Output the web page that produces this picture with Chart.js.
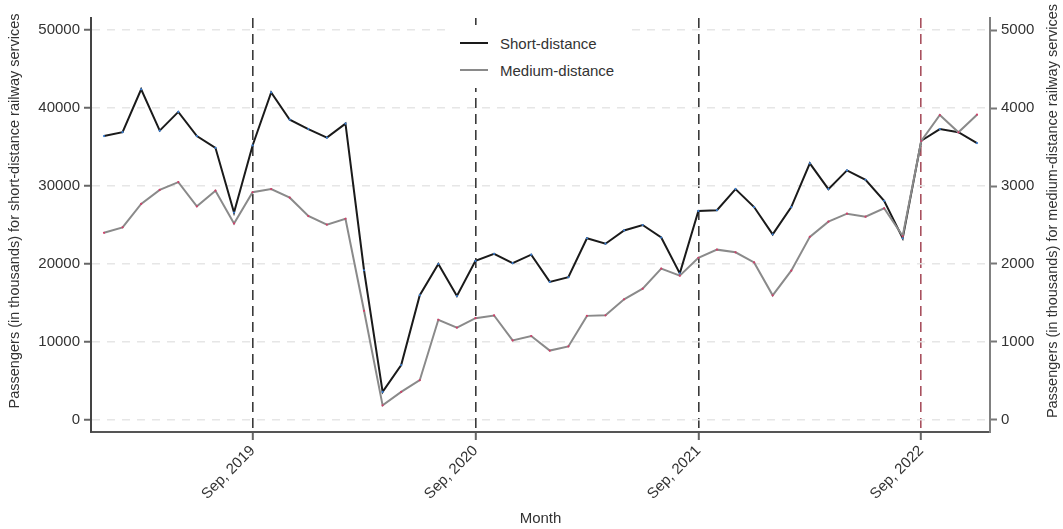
<!DOCTYPE html>
<html>
<head>
<meta charset="utf-8">
<title>Railway passengers by month</title>
<script src="https://cdn.jsdelivr.net/npm/chart.js@4.4.1/dist/chart.umd.min.js"></script>
<style>
  html, body { margin: 0; padding: 0; background: #ffffff; }
  #wrap { position: relative; width: 1063px; height: 529px; }
  #legend {
    position: absolute; left: 449px; top: 25px; width: 181px; height: 63px;
    background: #ffffff; font-family: "Liberation Sans", Arial, sans-serif;
    font-size: 15px; color: #333333;
  }
  #legend .row { position: absolute; left: 0; height: 20px; display: flex; align-items: center; }
  #legend .swatch { display: inline-block; width: 28px; height: 2px; margin-left: 11px; margin-right: 12px; }
</style>
</head>
<body>
<div id="wrap">
  <canvas id="chart" width="1063" height="529"></canvas>
  <div id="legend"></div>
</div>
<script>
// Monthly passengers (thousands), January 2019 to December 2022
const months = [
  "Jan, 2019","Feb, 2019","Mar, 2019","Apr, 2019","May, 2019","Jun, 2019",
  "Jul, 2019","Aug, 2019","Sep, 2019","Oct, 2019","Nov, 2019","Dec, 2019",
  "Jan, 2020","Feb, 2020","Mar, 2020","Apr, 2020","May, 2020","Jun, 2020",
  "Jul, 2020","Aug, 2020","Sep, 2020","Oct, 2020","Nov, 2020","Dec, 2020",
  "Jan, 2021","Feb, 2021","Mar, 2021","Apr, 2021","May, 2021","Jun, 2021",
  "Jul, 2021","Aug, 2021","Sep, 2021","Oct, 2021","Nov, 2021","Dec, 2021",
  "Jan, 2022","Feb, 2022","Mar, 2022","Apr, 2022","May, 2022","Jun, 2022",
  "Jul, 2022","Aug, 2022","Sep, 2022","Oct, 2022","Nov, 2022","Dec, 2022"
];

const shortDistance = [
  36400, 36900, 42400, 37100, 39500, 36400, 34900, 26600, 35200, 42000, 38500, 37300,
  36200, 38000, 19200,  3600,  7050, 16000, 20000, 15900, 20400, 21300, 20100, 21200,
  17700, 18300, 23300, 22600, 24300, 25000, 23400, 18800, 26800, 26900, 29600, 27300,
  23800, 27300, 32900, 29600, 32000, 30800, 28100, 23300, 35800, 37300, 36900, 35500
];

const mediumDistance = [
  2400, 2470, 2770, 2950, 3050, 2740, 2940, 2520, 2920, 2960, 2850, 2615,
  2505, 2580, 1400,  188,  360,  510, 1285, 1185, 1305, 1340, 1020, 1077,
   890,  943, 1335, 1342, 1547, 1684, 1940, 1850, 2080, 2184, 2150, 2020,
  1598, 1915, 2348, 2543, 2645, 2607, 2714, 2359, 3577, 3910, 3688, 3914
];

// Labelled months on the time axis
const markedMonths = ["Sep, 2019", "Sep, 2020", "Sep, 2021", "Sep, 2022"];
const highlightedMonth = "Sep, 2022";

const leftTicks = [0, 10000, 20000, 30000, 40000, 50000];
const rightTicks = [0, 1000, 2000, 3000, 4000, 5000];

const seriesNames = ["Short-distance", "Medium-distance"];
const leftTitle = "Passengers (in thousands) for short-distance railway services";
const rightTitle = "Passengers (in thousands) for medium-distance railway services";

const toPoints = arr => arr.map((v, i) => ({ x: i, y: v }));
const markedIndex = markedMonths.map(m => months.indexOf(m));
const highlightIndex = months.indexOf(highlightedMonth);

const FONT = "'Liberation Sans', Arial, sans-serif";
const TEXT = "#333333";

Chart.defaults.font.family = FONT;
Chart.defaults.font.size = 15;
Chart.defaults.color = TEXT;

// Both value-axis titles read bottom-to-top
const axisTitles = {
  id: "axisTitles",
  afterDraw(chart) {
    const ctx = chart.ctx;
    const top = chart.chartArea.top;
    const entries = [
      { text: leftTitle, x: chart.scales.y.left + 14.5, y: top + 193 },
      { text: rightTitle, x: chart.scales.y2.right - 10, y: top + 193 }
    ];
    ctx.save();
    ctx.font = "14.5px " + FONT;
    ctx.fillStyle = TEXT;
    ctx.textAlign = "center";
    ctx.textBaseline = "middle";
    entries.forEach(e => {
      ctx.save();
      ctx.translate(e.x, e.y);
      ctx.rotate(-Math.PI / 2);
      ctx.fillText(e.text, 0, 0);
      ctx.restore();
    });
    ctx.restore();
  }
};

const chart = new Chart(document.getElementById("chart"), {
  type: "line",
  data: {
    datasets: [
      {
        label: seriesNames[0],
        data: toPoints(shortDistance),
        yAxisID: "y",
        borderColor: "#1a1a1a",
        borderWidth: 2,
        pointRadius: 1.1,
        pointBorderWidth: 0,
        pointBackgroundColor: "#3b7fd4",
        tension: 0,
        order: 2
      },
      {
        label: seriesNames[1],
        data: toPoints(mediumDistance),
        yAxisID: "y2",
        borderColor: "#8a8a8a",
        borderWidth: 2,
        pointRadius: 1.1,
        pointBorderWidth: 0,
        pointBackgroundColor: "#d0406a",
        tension: 0,
        order: 1
      }
    ]
  },
  options: {
    responsive: false,
    animation: false,
    events: [],
    layout: { padding: { top: 18, left: 0, right: 0, bottom: 0 } },
    plugins: {
      legend: { display: false },
      tooltip: { enabled: false }
    },
    scales: {
      x: {
        type: "linear",
        min: -0.7,
        max: 47.7,
        afterBuildTicks: s => { s.ticks = markedIndex.map(v => ({ value: v })); },
        afterFit: s => { s.height = 97; },
        ticks: {
          autoSkip: false,
          maxRotation: 45,
          minRotation: 45,
          padding: 2,
          color: TEXT,
          font: { size: 15 },
          callback: v => months[v]
        },
        grid: {
          drawOnChartArea: true,
          drawTicks: true,
          tickLength: 8,
          lineWidth: 1.6,
          color: c => (c.tick && c.tick.value === highlightIndex) ? "#a8505e" : "#3a3a3a",
          tickColor: "#666666",
          tickWidth: 2,
          tickBorderDash: []
        },
        border: { display: true, color: "#555555", width: 2, dash: [10, 6] },
        title: {
          display: true,
          text: "Month",
          color: TEXT,
          font: { size: 15 },
          padding: { top: 0, bottom: 1 }
        }
      },
      y: {
        position: "left",
        min: -1540,
        max: 51540,
        afterBuildTicks: s => { s.ticks = leftTicks.map(v => ({ value: v })); },
        afterFit: s => { s.width = 91; },
        ticks: { padding: 4, color: TEXT, font: { size: 15 }, callback: v => String(v) },
        grid: {
          drawOnChartArea: true,
          drawTicks: true,
          tickLength: 7,
          lineWidth: 1.5,
          color: "#e6e6e6",
          tickColor: "#666666",
          tickWidth: 2,
          tickBorderDash: []
        },
        border: { display: true, color: "#444444", width: 2, dash: [8, 7] },
        title: { display: false }
      },
      y2: {
        position: "right",
        min: -154,
        max: 5154,
        afterBuildTicks: s => { s.ticks = rightTicks.map(v => ({ value: v })); },
        afterFit: s => { s.width = 73; },
        ticks: { padding: 4, color: TEXT, font: { size: 15 }, callback: v => String(v) },
        grid: {
          drawOnChartArea: false,
          drawTicks: true,
          tickLength: 7,
          tickColor: "#777777",
          tickWidth: 2,
          tickBorderDash: []
        },
        border: { display: true, color: "#808080", width: 2 },
        title: { display: false }
      }
    }
  },
  plugins: [axisTitles]
});

// Legend built from the chart's datasets, placed on a white panel inside the plot
const legend = document.getElementById("legend");
chart.data.datasets.forEach((ds, i) => {
  const row = document.createElement("div");
  row.className = "row";
  row.style.top = (8 + i * 27) + "px";
  const sw = document.createElement("span");
  sw.className = "swatch";
  sw.style.background = ds.borderColor;
  const txt = document.createElement("span");
  txt.textContent = ds.label;
  row.appendChild(sw);
  row.appendChild(txt);
  legend.appendChild(row);
});
</script>
</body>
</html>
